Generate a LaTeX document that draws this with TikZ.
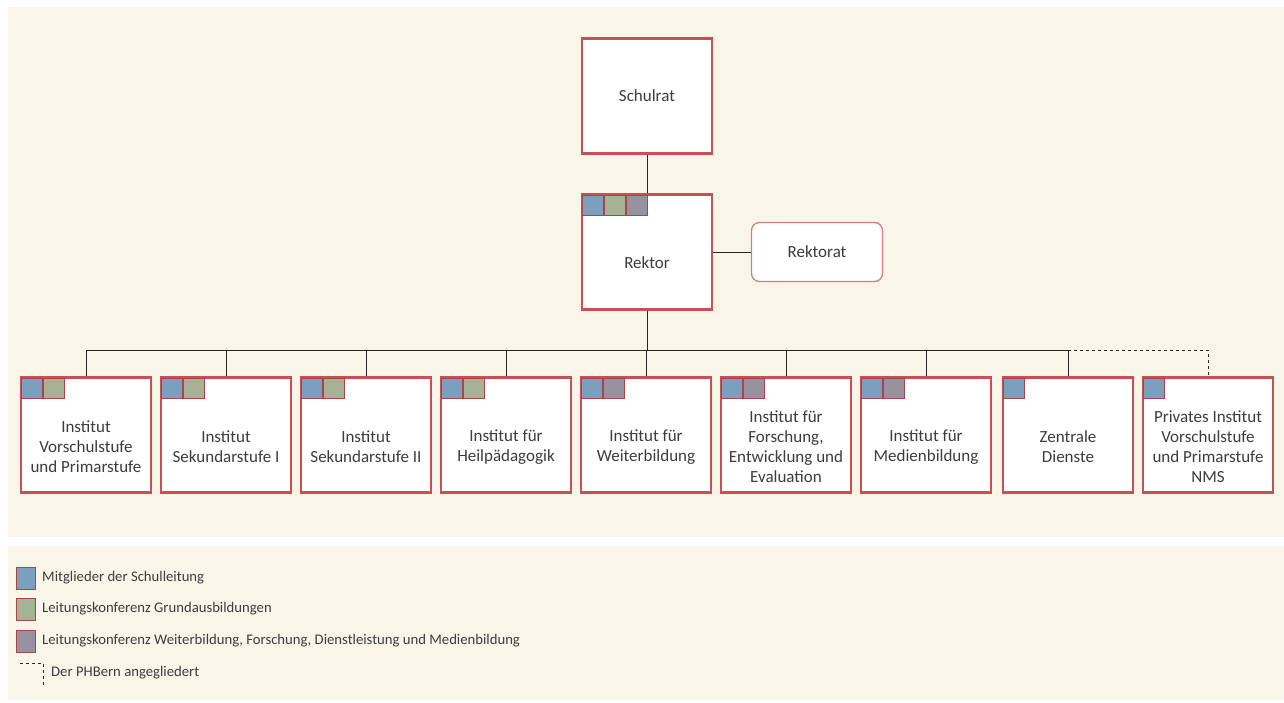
\documentclass[tikz,border=0pt]{standalone}
\usepackage{fontspec}
\setmainfont{Carlito}
\usetikzlibrary{positioning}

\definecolor{cream}{RGB}{249,246,233}
\definecolor{phred}{RGB}{200,80,82}
\definecolor{flagblue}{RGB}{122,160,190}
\definecolor{flaggreen}{RGB}{165,178,150}
\definecolor{flaggray}{RGB}{150,146,160}
\definecolor{txtgray}{RGB}{60,60,60}

\tikzset{
  unit/.style={draw=phred, line width=2.2pt, fill=white, minimum width=130pt,
    minimum height=115pt, inner sep=0pt},
  unittext/.style={align=center, text=txtgray, font=\fontsize{17}{20}\selectfont, inner sep=0pt},
  flag/.style={draw=phred!85!black, line width=0.9pt, minimum width=21pt,
    minimum height=20pt, inner sep=0pt, anchor=north west},
  legtext/.style={anchor=west, text=txtgray, font=\fontsize{14.7}{16}\selectfont, inner sep=0pt},
  link/.style={draw=black!85, line width=0.8pt},
}

\begin{document}
\begin{tikzpicture}[x=1pt, y=-1pt]
  \useasboundingbox (0,0) rectangle (1284,702);
  \fill[white] (0,0) rectangle (1284,702);
  \fill[cream] (8,7) rectangle (1284,537);
  \fill[cream] (8,546) rectangle (1284,700);

  % Top: Schulrat, Rektor, Rektorat.
  \node[unit] (schulrat) at (647,96) {};
  \node[unittext] (schulrattxt) at (schulrat.center) {Schulrat};
  \node[unit] (rektor) at (647,252) {};
  \node[unittext] (rektortxt) at ([yshift=-11pt]rektor.center) {Rektor};
  \node[flag, fill=flagblue] (rk1) at ([xshift=1.1pt,yshift=-1.1pt]rektor.north west) {};
  \node[flag, fill=flaggreen] (rk2) at (rk1.north east) {};
  \node[flag, fill=flaggray] (rk3) at (rk2.north east) {};
  \node[draw=phred!75, line width=1.3pt, fill=white, rounded corners=8pt,
    minimum width=131pt, minimum height=59pt, text=txtgray,
    font=\fontsize{17}{20}\selectfont] (rektorat) at (817,252) {Rektorat};

  \draw[link] (schulrat) -- (rektor);
  \draw[link] (rektor) -- (rektorat);

  % Institutes and services.
  \node[unit] (ivp) at (86,435) {};
  \node[unittext] at ([yshift=-12pt]ivp.center) {Institut\\Vorschulstufe\\und Primarstufe};
  \node[flag, fill=flagblue] (ivp1) at ([xshift=1.1pt,yshift=-1.1pt]ivp.north west) {};
  \node[flag, fill=flaggreen] (ivp2) at (ivp1.north east) {};

  \node[unit] (is1) at (226,435) {};
  \node[unittext] at ([yshift=-12pt]is1.center) {Institut\\Sekundarstufe I};
  \node[flag, fill=flagblue] (is11) at ([xshift=1.1pt,yshift=-1.1pt]is1.north west) {};
  \node[flag, fill=flaggreen] (is12) at (is11.north east) {};

  \node[unit] (is2) at (366,435) {};
  \node[unittext] at ([yshift=-12pt]is2.center) {Institut\\Sekundarstufe II};
  \node[flag, fill=flagblue] (is21) at ([xshift=1.1pt,yshift=-1.1pt]is2.north west) {};
  \node[flag, fill=flaggreen] (is22) at (is21.north east) {};

  \node[unit] (ihp) at (506,435) {};
  \node[unittext] at ([yshift=-12pt]ihp.center) {Institut für\\Heilpädagogik};
  \node[flag, fill=flagblue] (ihp1) at ([xshift=1.1pt,yshift=-1.1pt]ihp.north west) {};
  \node[flag, fill=flaggreen] (ihp2) at (ihp1.north east) {};

  \node[unit] (iwb) at (646,435) {};
  \node[unittext] at ([yshift=-12pt]iwb.center) {Institut für\\Weiterbildung};
  \node[flag, fill=flagblue] (iwb1) at ([xshift=1.1pt,yshift=-1.1pt]iwb.north west) {};
  \node[flag, fill=flaggray] (iwb2) at (iwb1.north east) {};

  \node[unit] (ife) at (786,435) {};
  \node[unittext] at ([yshift=-12pt]ife.center) {Institut für\\Forschung,\\Entwicklung und\\Evaluation};
  \node[flag, fill=flagblue] (ife1) at ([xshift=1.1pt,yshift=-1.1pt]ife.north west) {};
  \node[flag, fill=flaggray] (ife2) at (ife1.north east) {};

  \node[unit] (imb) at (926,435) {};
  \node[unittext] at ([yshift=-12pt]imb.center) {Institut für\\Medienbildung};
  \node[flag, fill=flagblue] (imb1) at ([xshift=1.1pt,yshift=-1.1pt]imb.north west) {};
  \node[flag, fill=flaggray] (imb2) at (imb1.north east) {};

  \node[unit] (zd) at (1068,435) {};
  \node[unittext] at ([yshift=-12pt]zd.center) {Zentrale\\Dienste};
  \node[flag, fill=flagblue] (zd1) at ([xshift=1.1pt,yshift=-1.1pt]zd.north west) {};

  \node[unit] (pivp) at (1208,435) {};
  \node[unittext] at ([yshift=-12pt]pivp.center) {Privates Institut\\Vorschulstufe\\und Primarstufe\\NMS};
  \node[flag, fill=flagblue] (pivp1) at ([xshift=1.1pt,yshift=-1.1pt]pivp.north west) {};

  % Bus line.
  \coordinate (bus) at (647,350);
  \draw[link] (rektor) -- (bus);
  \draw[link] (ivp.north |- bus) -- (zd.north |- bus);
  \foreach \u in {ivp,is1,is2,ihp,iwb,ife,imb,zd}
    \draw[link] (\u.north |- bus) -- (\u.north);
  \draw[link, dashed] (zd.north |- bus) -- (pivp.north |- bus) -- (pivp.north);

  % Legend.
  \node[flag, fill=flagblue, anchor=center, minimum width=19pt, minimum height=22pt] (legblue) at (26,578) {};
  \node[legtext] (legbluetxt) at (42,578) {Mitglieder der Schulleitung};
  \node[flag, fill=flaggreen, anchor=center, minimum width=19pt, minimum height=22pt] (leggreen) at (26,609) {};
  \node[legtext] (leggreentxt) at (42,609) {Leitungskonferenz Grundausbildungen};
  \node[flag, fill=flaggray, anchor=center, minimum width=19pt, minimum height=22pt] (leggray) at (26,641) {};
  \node[legtext] (leggraytxt) at (42,641) {Leitungskonferenz Weiterbildung, Forschung, Dienstleistung und Medienbildung};
  \draw[black!85, line width=0.6pt, dashed] (20,663) -- (43,663) -- (43,686);
  \node[legtext] (legdashtxt) at (51,673) {Der PHBern angegliedert};
\end{tikzpicture}
\end{document}
